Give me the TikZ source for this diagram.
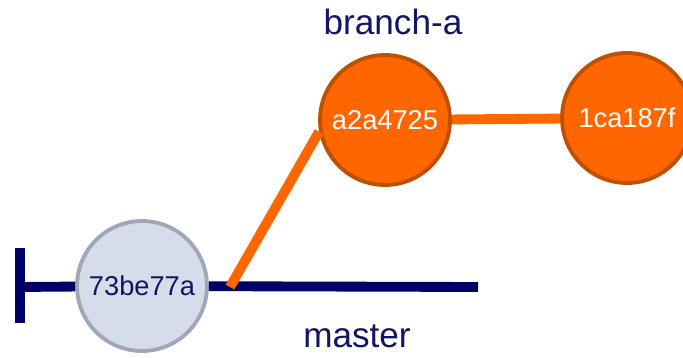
\documentclass[tikz,border=0pt]{standalone}
\usepackage{fontspec}
\setmainfont{Liberation Sans}
\usetikzlibrary{positioning}
\definecolor{navy}{RGB}{0,0,102}
\definecolor{inknavy}{RGB}{20,20,100}
\definecolor{gitorange}{RGB}{255,102,0}
\definecolor{gitrim}{RGB}{190,80,0}
\definecolor{basefill}{RGB}{213,220,234}
\definecolor{baserim}{RGB}{160,167,182}

\begin{document}
\begin{tikzpicture}[x=0.02cm,y=-0.02cm]
\tikzstyle{commit}=[circle,minimum size=2.6cm,inner sep=0pt,line width=2.2pt,font=\fontsize{15.5}{18}\selectfont]
\tikzstyle{basecommit}=[commit,fill=basefill,draw=baserim,text=inknavy]
\tikzstyle{tipcommit}=[commit,fill=gitorange,draw=gitrim,text=white]
\tikzstyle{reflabel}=[text=inknavy,font=\fontsize{20}{24}\selectfont]
    \useasboundingbox (0,0) rectangle (683,358);
    % commits
    \node[basecommit] (73be77a) at (142,286) {73be77a};
    \node[tipcommit] (a2a4725) at (385,120) {a2a4725};
    \node[tipcommit] (1ca187f) at (627,118) {1ca187f};
    % refs
    \node[reflabel] (branchA) at (393,22) {branch-a};
    \node[reflabel] (master) at (357,336) {master};
    \coordinate (tail) at (20,287);
    \coordinate (bartop) at (20,248);
    \coordinate (barbot) at (20,323);
    \coordinate (fork) at (230,287);
    \coordinate (head) at (478,287);
    % master line
    \draw[navy,line width=5.5pt] (bartop) -- (barbot);
    \draw[navy,line width=5.6pt] (tail) -- (73be77a);
    \draw[navy,line width=5.6pt] (73be77a) -- (head);
    % branch-a line
    \draw[gitorange,line width=5.6pt] (fork) -- (a2a4725.190);
    \draw[gitorange,line width=5.6pt] (a2a4725) -- (1ca187f);
  \end{tikzpicture}
\end{document}
